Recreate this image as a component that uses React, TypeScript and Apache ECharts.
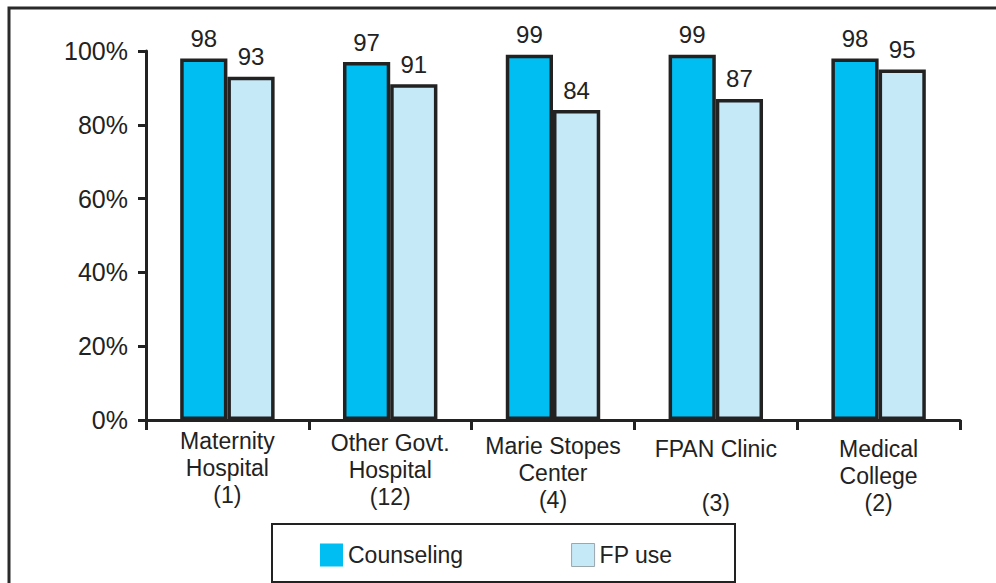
import React, { useEffect, useRef } from "react";
import * as echarts from "echarts";

const categories = [
  "Maternity\nHospital\n(1)",
  "Other Govt.\nHospital\n(12)",
  "Marie Stopes\nCenter\n(4)",
  "FPAN Clinic\n\n(3)",
  "Medical\nCollege\n(2)",
];
const counseling = [98, 97, 99, 99, 98];
const fpUse = [93, 91, 84, 87, 95];
const yTicks = [0, 20, 40, 60, 80, 100];

const labelShift = [0, 2, 5, 8, 8];

export default function App() {
  const ref = useRef<HTMLDivElement>(null);
  useEffect(() => {
    if (!ref.current) return;
    const chart = echarts.init(ref.current, null, { renderer: "svg" });
    const font = "Liberation Sans, Arial, Helvetica, sans-serif";
    const dark = "#222222";
    chart.setOption({
      animation: false,
      backgroundColor: "#ffffff",
      textStyle: { fontFamily: font },
      grid: { left: 146, right: 36, top: 51, bottom: 163, containLabel: false },
      legend: {
        left: 315,
        top: 538,
        icon: "rect",
        itemWidth: 23,
        itemHeight: 23,
        itemGap: 108,
        textStyle: { fontSize: 23, color: dark, fontFamily: font },
        data: [
          { name: "Counseling", itemStyle: { borderWidth: 0 } },
          { name: "FP use", itemStyle: { borderWidth: 1, borderColor: "#9aa7ad" } },
        ],
      },
      xAxis: {
        type: "category",
        data: categories.map((c, i) => ({
          value: c,
          textStyle: { padding: [labelShift[i], 0, 0, 0] },
        })),
        boundaryGap: true,
        axisLine: { lineStyle: { color: dark, width: 3 } },
        axisTick: { show: true, length: 10, lineStyle: { color: dark, width: 3 } },
        axisLabel: {
          margin: 7,
          fontSize: 23,
          lineHeight: 27,
          color: dark,
          fontFamily: font,
          interval: 0,
        },
      },
      yAxis: {
        type: "value",
        min: yTicks[0],
        max: yTicks[yTicks.length - 1],
        interval: 20,
        axisLine: { show: true, lineStyle: { color: dark, width: 3 } },
        axisTick: { show: true, length: 8, lineStyle: { color: dark, width: 3 } },
        splitLine: { show: false },
        axisLabel: {
          formatter: "{value}%",
          fontSize: 25,
          margin: 18,
          color: dark,
          fontFamily: font,
        },
      },
      series: [
        {
          name: "Counseling",
          type: "bar",
          data: counseling,
          barGap: "0%",
          barCategoryGap: "42%",
          itemStyle: { color: "#00BDF2", borderColor: dark, borderWidth: 3.5 },
          label: {
            show: true,
            position: "top",
            distance: 8,
            fontSize: 24,
            color: dark,
            fontFamily: font,
          },
        },
        {
          name: "FP use",
          type: "bar",
          data: fpUse,
          barGap: "0%",
          barCategoryGap: "42%",
          itemStyle: { color: "#C6E9F8", borderColor: dark, borderWidth: 3.5 },
          label: {
            show: true,
            position: "top",
            distance: 8,
            fontSize: 24,
            color: dark,
            fontFamily: font,
          },
        },
      ],
      graphic: [
        {
          type: "rect",
          shape: { x: 9, y: 8, width: 1100, height: 700 },
          style: { fill: "none", stroke: "#2a2a2a", lineWidth: 3 },
          silent: true,
        },
        {
          type: "rect",
          shape: { x: 272, y: 524, width: 463, height: 58 },
          style: { fill: "none", stroke: dark, lineWidth: 2 },
          silent: true,
        },
      ],
    });
    return () => chart.dispose();
  }, []);
  return (
    <div
      ref={ref}
      style={{ position: "absolute", left: 0, top: 0, width: 996, height: 583 }}
    />
  );
}
